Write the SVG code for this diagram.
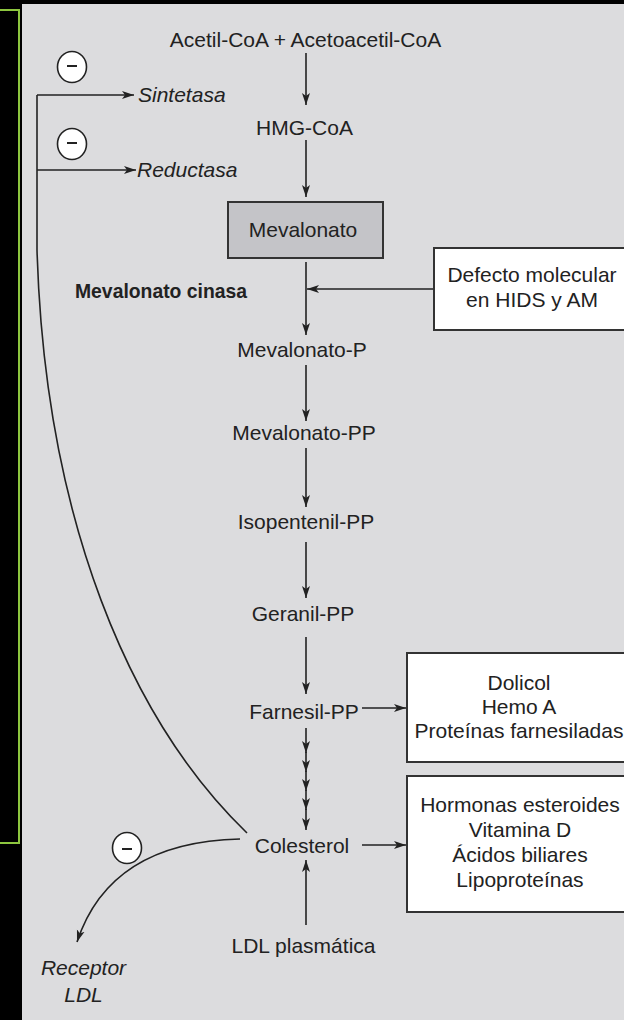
<svg xmlns="http://www.w3.org/2000/svg" width="624" height="1020" viewBox="0 0 624 1020">
<style>
text{font-family:"Liberation Sans",Arial,sans-serif;font-size:21px;fill:#222;}
.c{text-anchor:middle;}
.i{font-style:italic;}
.b{font-weight:bold;}
.ln{stroke:#222;stroke-width:1.6;fill:none;}
.box{fill:#fff;stroke:#333;stroke-width:2;}
.inh{fill:#fff;stroke:#222;stroke-width:1.6;}
.mn{stroke:#222;stroke-width:2;}
</style>
<defs>
<marker id="ah" markerUnits="userSpaceOnUse" markerWidth="16" markerHeight="12" refX="12" refY="5" orient="auto" viewBox="0 0 16 12">
<path d="M0,1 L12,5 L0,9 L3,5 Z" fill="#222"/>
</marker>
</defs>
<rect x="0" y="0" width="624" height="1020" fill="#000"/>
<rect x="-4" y="10" width="23" height="833" fill="none" stroke="#8dc63f" stroke-width="2"/>
<rect x="22" y="4" width="610" height="1020" fill="#dcdcde"/>

<g id="connectors">
<line class="ln" x1="306" y1="53" x2="306" y2="105" marker-end="url(#ah)"/>
<line class="ln" x1="306" y1="140" x2="306" y2="197" marker-end="url(#ah)"/>
<line class="ln" x1="306" y1="262" x2="306" y2="335" marker-end="url(#ah)"/>
<line class="ln" x1="306" y1="365" x2="306" y2="421" marker-end="url(#ah)"/>
<line class="ln" x1="306" y1="448" x2="306" y2="507" marker-end="url(#ah)"/>
<line class="ln" x1="306" y1="542" x2="306" y2="598" marker-end="url(#ah)"/>
<line class="ln" x1="306" y1="637" x2="306" y2="694" marker-end="url(#ah)"/>
<line class="ln" x1="306" y1="728" x2="306" y2="753" marker-end="url(#ah)"/>
<line class="ln" x1="306" y1="752" x2="306" y2="772" marker-end="url(#ah)"/>
<line class="ln" x1="306" y1="771" x2="306" y2="791" marker-end="url(#ah)"/>
<line class="ln" x1="306" y1="790" x2="306" y2="810" marker-end="url(#ah)"/>
<line class="ln" x1="306" y1="809" x2="306" y2="830" marker-end="url(#ah)"/>
<line class="ln" x1="306" y1="925" x2="306" y2="860" marker-end="url(#ah)"/>
<line class="ln" x1="434" y1="289" x2="307" y2="289" marker-end="url(#ah)"/>
<line class="ln" x1="362" y1="708" x2="406" y2="708" marker-end="url(#ah)"/>
<line class="ln" x1="362" y1="845" x2="406" y2="845" marker-end="url(#ah)"/>
<line class="ln" x1="37" y1="95" x2="134" y2="95" marker-end="url(#ah)"/>
<line class="ln" x1="37" y1="170" x2="136" y2="170" marker-end="url(#ah)"/>
<path class="ln" d="M37,95 V250 C45,520 130,720 247,833"/>
<path class="ln" d="M240,839 Q110,842 77,942" marker-end="url(#ah)"/>
</g>

<g id="inh1"><ellipse class="inh" cx="72" cy="67" rx="14.5" ry="15.5"/><line class="mn" x1="67" y1="66" x2="77" y2="66"/></g>
<g id="inh2"><ellipse class="inh" cx="72" cy="144" rx="14.5" ry="15.5"/><line class="mn" x1="67" y1="143" x2="77" y2="143"/></g>
<g id="inh3"><ellipse class="inh" cx="127" cy="848" rx="14.5" ry="15.5"/><line class="mn" x1="122" y1="849" x2="132" y2="849"/></g>

<g id="n-acetil"><text class="c" x="305.5" y="47">Acetil-CoA + Acetoacetil-CoA</text></g>
<g id="n-sintetasa"><text class="i" x="138" y="102">Sintetasa</text></g>
<g id="n-reductasa"><text class="i" x="137" y="177">Reductasa</text></g>
<g id="n-hmg"><text class="c" x="304.5" y="135">HMG-CoA</text></g>
<g id="n-mevalonato"><rect x="228" y="202" width="155" height="56" fill="#c4c4c8" stroke="#333" stroke-width="2"/><text class="c" x="303" y="237">Mevalonato</text></g>
<g id="n-cinasa"><text class="b" x="75" y="298" textLength="172" lengthAdjust="spacingAndGlyphs" font-size="20">Mevalonato cinasa</text></g>
<g id="n-defecto"><rect class="box" x="434" y="248" width="200" height="82"/><text class="c" x="532" y="282">Defecto molecular</text><text class="c" x="532" y="307">en HIDS y AM</text></g>
<g id="n-mevp"><text class="c" x="302" y="357">Mevalonato-P</text></g>
<g id="n-mevpp"><text class="c" x="304" y="440">Mevalonato-PP</text></g>
<g id="n-isopentenil"><text class="c" x="306" y="529">Isopentenil-PP</text></g>
<g id="n-geranil"><text class="c" x="303" y="621">Geranil-PP</text></g>
<g id="n-farnesil"><text class="c" x="304" y="719">Farnesil-PP</text></g>
<g id="n-dolicol"><rect class="box" x="407" y="653" width="230" height="109"/><text class="c" x="519" y="690">Dolicol</text><text class="c" x="519" y="714">Hemo A</text><text class="c" x="519" y="738">Proteínas farnesiladas</text></g>
<g id="n-colesterol"><text class="c" x="302" y="853">Colesterol</text></g>
<g id="n-hormonas"><rect class="box" x="407" y="776" width="230" height="136"/><text class="c" x="520" y="812">Hormonas esteroides</text><text class="c" x="520" y="837">Vitamina D</text><text class="c" x="520" y="862">Ácidos biliares</text><text class="c" x="520" y="887">Lipoproteínas</text></g>
<g id="n-ldl"><text class="c" x="303.5" y="953">LDL plasmática</text></g>
<g id="n-receptor"><text class="c i" x="83.5" y="975">Receptor</text><text class="c i" x="83.5" y="1002">LDL</text></g>
</svg>
